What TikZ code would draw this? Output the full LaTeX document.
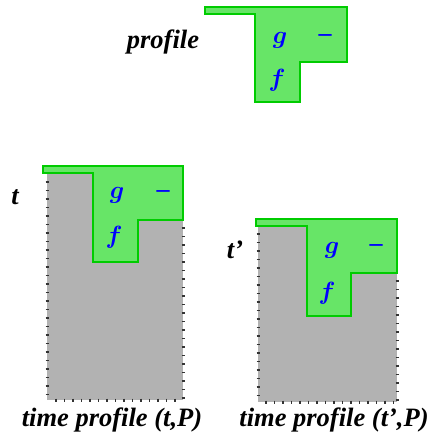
\documentclass[tikz,border=0pt]{standalone}
\usepackage{fontspec}
\setmainfont{Liberation Serif}
\begin{document}
\begin{tikzpicture}[x=1pt,y=-1pt,
  lbl/.style={font=\fontsize{26.5}{28}\selectfont\bfseries\itshape, inner sep=0pt},
  sym/.style={font=\fontsize{30}{32}\selectfont\boldmath, text=blue, inner sep=0pt},
  minussym/.style={font=\fontsize{26}{28}\selectfont\bfseries, text=blue, inner sep=0pt},
  prof/.style={fill=green!55!white!90!black, draw=green!80!black, line width=2.2pt, line join=miter},
  block/.style={fill=gray!60, draw=none},
  tick/.style={line width=1.1pt, black!80}]
\useasboundingbox (0,0) rectangle (432,445);
% top profile
\draw[prof] (205,7) -- (347,7) -- (347,62) -- (300,62) -- (300,102) -- (255,102) -- (255,14) -- (205,14) -- cycle;
\node[lbl] (plabel) at (163,42) {profile};
\node[sym] (g0) at (280,40) {$g$};
\node[minussym] (m0) at (325,38) {–};
\node[sym] (f0) at (277,80) {$f$};
% left time profile
\fill[block] (47,173) rectangle (183,400);
\foreach \yy in {182,190.5,...,398} {\draw[tick] (45.5,\yy) -- (48.5,\yy);}
\foreach \yy in {228,236.5,...,398} {\draw[tick] (181.5,\yy) -- (184.5,\yy);}
\foreach \xx in {56,64.5,...,180} {\draw[tick] (\xx,398.5) -- (\xx,401.5);}
\draw[prof] (43,166) -- (183,166) -- (183,220) -- (138,220) -- (138,262) -- (93,262) -- (93,173) -- (43,173) -- cycle;
\node[lbl] (tl) at (15,197) {t};
\node[sym] (g1) at (117,195) {$g$};
\node[minussym] (m1) at (163,194) {–};
\node[sym] (f1) at (114,237) {$f$};
\node[lbl] (cap1) at (112,420) {time profile (t,P)};
% right time profile
\fill[block] (258,226) rectangle (397,402);
\foreach \yy in {234,242.5,...,400} {\draw[tick] (256.5,\yy) -- (259.5,\yy);}
\foreach \yy in {281,289.5,...,400} {\draw[tick] (395.5,\yy) -- (398.5,\yy);}
\foreach \xx in {266,274.5,...,394} {\draw[tick] (\xx,400.5) -- (\xx,403.5);}
\draw[prof] (256,219) -- (397,219) -- (397,273) -- (351,273) -- (351,316) -- (307,316) -- (307,226) -- (256,226) -- cycle;
\node[lbl] (tr) at (235,250) {t’};
\node[sym] (g2) at (332,250) {$g$};
\node[minussym] (m2) at (376,248) {–};
\node[sym] (f2) at (327,293) {$f$};
\node[lbl] (cap2) at (334,420) {time profile (t’,P)};
\end{tikzpicture}
\end{document}
